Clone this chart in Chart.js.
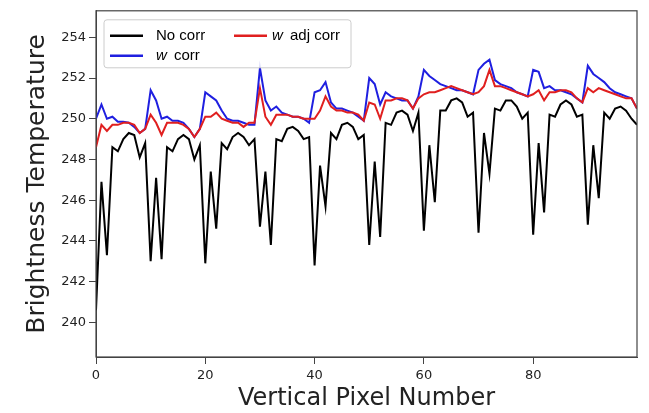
<!DOCTYPE html>
<html>
<head>
<meta charset="utf-8">
<script src="https://cdn.jsdelivr.net/npm/chart.js@4"></script>
<style>
 html,body{margin:0;padding:0;background:#fff}
 #wrap{width:649px;height:413px}
</style>
</head>
<body>
<div id="wrap"><canvas id="chart" width="649" height="413"></canvas></div>
<script>
// vertical pixel index 0..99
const pixels=Array.from({length:100},(_,i)=>i);

const noCorr=[
 240.6,246.9,243.3,248.6,248.4,249.0,249.3,249.2,248.1,248.8,
 243.0,247.1,243.1,248.6,248.4,249.0,249.2,249.0,248.0,248.7,
 242.9,247.4,244.6,248.8,248.5,249.1,249.3,249.1,248.7,249.0,
 244.7,247.4,243.8,249.0,248.9,249.5,249.6,249.4,249.0,249.1,
 242.8,247.7,245.7,249.3,249.0,249.7,249.8,249.6,249.0,249.2,
 243.8,247.9,244.2,249.8,249.7,250.3,250.4,250.2,249.4,250.3,
 244.5,248.7,245.9,250.4,250.4,250.9,251.0,250.8,250.1,250.3,
 244.4,249.3,247.3,250.5,250.4,250.9,250.9,250.6,250.0,250.3,
 244.3,248.8,245.4,250.2,250.1,250.7,250.9,250.7,250.1,250.2,
 244.8,248.7,246.1,250.3,250.0,250.5,250.6,250.4,250.0,249.7
];
const wCorr=[
 250.0,250.7,250.0,250.1,249.85,249.85,249.8,249.6,249.3,249.5,
 251.4,250.9,250.0,250.1,249.9,249.9,249.8,249.5,249.1,249.5,
 251.3,251.1,250.9,250.4,250.0,249.9,249.9,249.8,249.7,249.7,
 252.5,250.9,250.4,250.6,250.3,250.2,250.1,250.1,250.0,249.8,
 251.3,251.4,251.8,250.8,250.5,250.5,250.4,250.3,250.1,249.9,
 252.0,251.7,250.7,251.3,251.1,251.0,250.9,250.9,250.5,251.1,
 252.4,252.1,251.9,251.7,251.6,251.5,251.4,251.4,251.3,251.2,
 252.4,252.7,252.9,251.9,251.7,251.6,251.5,251.3,251.2,251.1,
 252.4,252.3,251.5,251.6,251.4,251.4,251.3,251.2,251.0,250.8,
 252.6,252.2,252.0,251.8,251.5,251.3,251.2,251.1,251.0,250.5
];
const wAdjCorr=[
 248.6,249.7,249.4,249.7,249.7,249.8,249.8,249.7,249.3,249.5,
 250.2,249.8,249.2,249.8,249.8,249.8,249.7,249.5,249.1,249.5,
 250.1,250.1,250.3,250.0,249.9,249.8,249.8,249.6,249.8,249.8,
 251.5,250.1,249.7,250.2,250.2,250.2,250.1,250.1,250.0,250.0,
 250.0,250.4,251.1,250.6,250.4,250.4,250.3,250.3,250.2,249.9,
 250.8,250.7,250.0,250.9,250.9,251.0,251.0,250.9,250.5,251.0,
 251.2,251.3,251.3,251.4,251.5,251.6,251.5,251.4,251.3,251.2,
 251.3,251.6,252.4,251.6,251.6,251.5,251.4,251.3,251.2,251.1,
 251.2,251.4,250.9,251.3,251.3,251.4,251.4,251.3,251.0,250.8,
 251.5,251.3,251.5,251.4,251.3,251.2,251.1,251.0,251.0,250.5
];
const seriesNames=["No corr","w corr","w adj corr"];
const seriesColors=["#000000","#1f1fe0","#e01f1f"];
const xTicks=[0,20,40,60,80];
const yTicks=[240,242,244,246,248,250,252,254];

const pts=arr=>arr.map((v,i)=>({x:pixels[i],y:v}));
const axisColor="#444";
const tickFont={family:"DejaVu Sans",size:13};

// frame round the plot, like matplotlib spines
const frame={
 id:"frame",
 afterDraw(c){
  const a=c.chartArea,ctx=c.ctx;
  ctx.save();ctx.strokeStyle=axisColor;ctx.lineWidth=1.2;
  ctx.strokeRect(a.left,a.top,a.right-a.left,a.bottom-a.top);
  ctx.restore();
 }
};

// two column legend, filled column by column
const legendBox={
 id:"legendBox",
 afterDatasetsDraw(c){
  const a=c.chartArea,ctx=c.ctx;
  const bx=a.left+8,by=a.top+9,bw=247,bh=48;
  ctx.save();
  ctx.fillStyle="rgba(255,255,255,0.85)";
  ctx.strokeStyle="#cccccc";ctx.lineWidth=1;
  ctx.beginPath();ctx.roundRect(bx,by,bw,bh,3);ctx.fill();ctx.stroke();
  c.data.datasets.forEach((ds,i)=>{
   const col=Math.floor(i/2),row=i%2;
   const lx=bx+6+col*124,ly=by+16+row*20;
   ctx.strokeStyle=ds.borderColor;ctx.lineWidth=2.5;
   ctx.beginPath();ctx.moveTo(lx,ly);ctx.lineTo(lx+33,ly);ctx.stroke();
   ctx.fillStyle="#000";ctx.textBaseline="middle";
   let tx=lx+(col?38:46);
   let label=ds.label;
   if(label.startsWith("w ")){
    ctx.font="italic 15px 'Liberation Sans'";
    ctx.fillText("w",tx,ly);
    tx+=ctx.measureText("w ").width+3;
    label=label.slice(2);
   }
   ctx.font="15px 'Liberation Sans'";
   ctx.fillText(label,tx,ly);
  });
  ctx.restore();
 }
};

new Chart(document.getElementById("chart"),{
 type:"line",
 data:{datasets:[
  {label:seriesNames[0],data:pts(noCorr),borderColor:seriesColors[0],order:2},
  {label:seriesNames[1],data:pts(wCorr),borderColor:seriesColors[1],order:1},
  {label:seriesNames[2],data:pts(wAdjCorr),borderColor:seriesColors[2],order:0}
 ]},
 options:{
  responsive:false,animation:false,
  layout:{padding:{left:0,right:12,top:6,bottom:0}},
  elements:{line:{borderWidth:2,tension:0},point:{radius:0}},
  plugins:{legend:{display:false},tooltip:{enabled:false}},
  scales:{
   x:{
    type:"linear",min:0,max:99,
    afterBuildTicks(s){s.ticks=xTicks.map(v=>({value:v}))},
    afterFit(s){s.height=56},
    ticks:{font:tickFont,color:"#222",padding:4},
    grid:{drawOnChartArea:false,tickLength:7,color:axisColor},
    border:{color:axisColor},
    title:{display:true,text:"Vertical Pixel Number",font:{family:"DejaVu Sans",size:24},color:"#222",padding:{top:0,bottom:0}}
   },
   y:{
    min:238.3,max:255.3,
    afterBuildTicks(s){s.ticks=yTicks.map(v=>({value:v}))},
    afterFit(s){s.width=96},
    ticks:{font:tickFont,color:"#222",padding:3},
    grid:{drawOnChartArea:false,tickLength:7,color:axisColor},
    border:{color:axisColor},
    title:{display:true,text:"Brightness Temperature",font:{family:"DejaVu Sans",size:25},color:"#222",padding:{top:22,bottom:0}}
   }
  }
 },
 plugins:[frame,legendBox]
});
</script>
</body>
</html>
